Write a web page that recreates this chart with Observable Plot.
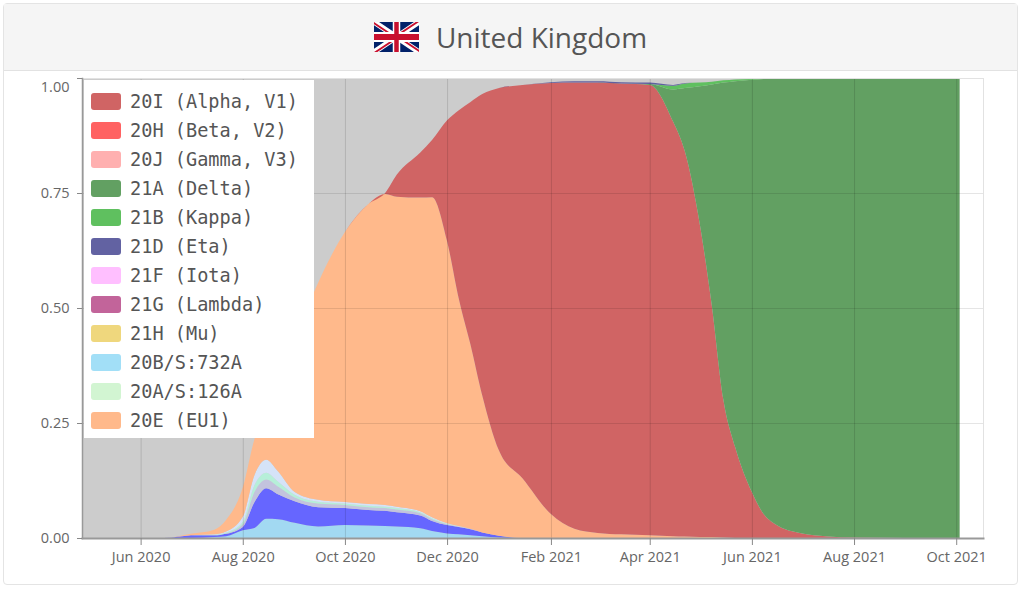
<!DOCTYPE html>
<html><head><meta charset="utf-8">
<script src="https://cdn.jsdelivr.net/npm/d3@7"></script>
<script src="https://cdn.jsdelivr.net/npm/@observablehq/plot@0.6"></script>
<style>
html,body{margin:0;padding:0;background:#fff;}
body{width:1024px;height:596px;position:relative;overflow:hidden;font-family:"Open Sans",sans-serif;}
#card{position:absolute;left:3px;top:3px;width:1015px;height:582px;border:1px solid #e4e4e4;border-radius:4px;box-sizing:border-box;}
#header{position:absolute;left:4px;top:4px;width:1013px;height:66px;background:#f5f5f5;border-bottom:1px solid #e2e2e2;display:flex;align-items:center;justify-content:center;}
#header span{font-size:28px;color:#555;margin-left:17px;font-weight:400;}
#chart{position:absolute;left:0;top:70px;}
#legend{position:absolute;left:84px;top:80px;width:230px;height:358px;background:#fff;}
.row{position:absolute;left:0;height:20px;display:flex;align-items:center;}
.sw{width:30px;height:17px;border-radius:3px;margin-left:7px;}
.lb{margin-left:9px;font-family:"DejaVu Sans Mono",monospace;font-size:18.6px;color:#555;white-space:pre;}
</style></head>
<body>
<div id="card"></div>
<div id="header">
<svg width="45" height="30" viewBox="0 0 60 30" preserveAspectRatio="none">
<clipPath id="s"><path d="M0,0 v30 h60 v-30 z"/></clipPath>
<clipPath id="t"><path d="M30,15 h30 v15 z v15 h-30 z h-30 v-15 z v-15 h30 z"/></clipPath>
<g clip-path="url(#s)">
<path d="M0,0 v30 h60 v-30 z" fill="#012169"/>
<path d="M0,0 L60,30 M60,0 L0,30" stroke="#fff" stroke-width="6"/>
<path d="M0,0 L60,30 M60,0 L0,30" clip-path="url(#t)" stroke="#C8102E" stroke-width="4"/>
<path d="M30,0 v30 M0,15 h60" stroke="#fff" stroke-width="10"/>
<path d="M30,0 v30 M0,15 h60" stroke="#C8102E" stroke-width="6"/>
</g></svg>
<span>United Kingdom</span>
</div>
<div id="chart"></div>
<div id="legend"></div>
<script>
// ---- data ----
const dates = ["2020-04-27","2020-06-01","2020-06-15","2020-07-01","2020-07-15","2020-07-22","2020-08-01","2020-08-08","2020-08-15","2020-08-22",
"2020-09-01","2020-09-15","2020-10-01","2020-10-15","2020-10-25","2020-11-01","2020-11-15","2020-11-22","2020-12-01","2020-12-08",
"2020-12-15","2020-12-22","2021-01-01","2021-01-15","2021-02-01","2021-02-15","2021-03-01","2021-03-15","2021-04-01","2021-04-15",
"2021-04-22","2021-05-01","2021-05-08","2021-05-15","2021-05-22","2021-06-01","2021-06-08","2021-06-15","2021-07-01","2021-07-15",
"2021-08-01","2021-09-01","2021-10-03"];

const v20B_S732A = [0,0,0,0,0.002,0.004,0.017,0.022,0.042,0.041, 0.033,0.025,0.028,0.027,0.026,0.025,0.021,0.015,0.010,0.008, 0.006,0.004,0.001,0,0,0,0,0,0,0, 0,0,0,0,0,0,0,0,0,0, 0,0,0];
const v20A_EU2   = [0,0,0,0.006,0.004,0.005,0.007,0.056,0.066,0.054, 0.047,0.042,0.037,0.034,0.033,0.031,0.028,0.022,0.018,0.016, 0.013,0.008,0.004,0,0,0,0,0,0,0, 0,0,0,0,0,0,0,0,0,0, 0,0,0];
const v20A_S439K = [0,0,0,0,0,0.001,0.006,0.022,0.019,0.017, 0.008,0.008,0.007,0.006,0.006,0.006,0.005,0.004,0.002,0.001, 0.001,0,0,0,0,0,0,0,0,0, 0,0,0,0,0,0,0,0,0,0, 0,0,0];
const v20A_S126A = [0,0,0,0,0.001,0.002,0.005,0.015,0.015,0.011, 0.006,0.004,0.003,0.003,0.003,0.003,0.002,0.002,0.001,0, 0,0,0,0,0,0,0,0,0,0, 0,0,0,0,0,0,0,0,0,0, 0,0,0];
const v20A_S98F  = [0,0,0,0,0.001,0.002,0.011,0.022,0.028,0.022, 0.006,0.004,0.003,0.004,0.004,0.003,0.002,0.002,0.001,0.001, 0,0,0,0,0,0,0,0,0,0, 0,0,0,0,0,0,0,0,0,0, 0,0,0];
const v20E_EU1   = [0,0,0,0.003,0.010,0.025,0.064,0.078,0.110,0.195, 0.330,0.472,0.587,0.652,0.676,0.674,0.682,0.696,0.613,0.494, 0.400,0.298,0.185,0.130,0.052,0.020,0.011,0.008,0.006,0.004, 0.003,0.002,0.002,0.001,0,0,0,0,0,0, 0,0,0];
const v20I_Alpha = [0,0,0,0,0,0,0,0,0,0, 0,0,0,0,0.002,0.048,0.098,0.124,0.263,0.410, 0.528,0.655,0.788,0.855,0.937,0.970,0.979,0.980,0.979,0.901, 0.837,0.678,0.505,0.299,0.198,0.100,0.052,0.030,0.010,0.004, 0.001,0,0];
const v21A_Delta = [0,0,0,0,0,0,0,0,0,0, 0,0,0,0,0,0,0,0,0,0, 0,0,0,0,0,0,0,0,0.002,0.070, 0.138,0.302,0.479,0.690,0.795,0.896,0.946,0.969,0.990,0.996, 0.999,1,1];
const v21B_Kappa = [0,0,0,0,0,0,0,0,0,0, 0,0,0,0,0,0,0,0,0,0, 0,0,0,0,0,0,0,0,0,0.008, 0.010,0.008,0.006,0.005,0.004,0.002,0.001,0,0,0, 0,0,0];
const v21D_Eta   = [0,0,0,0,0,0,0,0,0,0, 0,0,0,0,0,0,0,0,0,0, 0,0,0,0,0.002,0.003,0.003,0.003,0.003,0.002, 0.001,0,0,0,0,0,0,0,0,0, 0,0,0];

// stacking order (bottom to top)
const stackNames  = ["20B/S:732A","20A.EU2","20A/S:439K","20A/S:126A","20A/S:98F","20E (EU1)","20I (Alpha, V1)","21A (Delta)","21B (Kappa)","21D (Eta)"];
const stackValues = [v20B_S732A, v20A_EU2, v20A_S439K, v20A_S126A, v20A_S98F, v20E_EU1, v20I_Alpha, v21A_Delta, v21B_Kappa, v21D_Eta];
const stackColors = ["#a2d9f2","#6666ff","#c3c3dd","#b6efd9","#d5e3f8","#ffb98b","#d06464","#62a062","#5fc05f","#6060a0"];

// legend
const legendNames  = ["20I (Alpha, V1)","20H (Beta, V2)","20J (Gamma, V3)","21A (Delta)","21B (Kappa)","21D (Eta)","21F (Iota)","21G (Lambda)","21H (Mu)","20B/S:732A","20A/S:126A","20E (EU1)"];
const legendColors = ["#d06464","#ff6262","#ffb0b0","#62a062","#5fc05f","#6262a2","#ffbfff","#c2649a","#efd77d","#a2dff7","#d2f5d2","#ffb98b"];

const xTicks = ["2020-06-01","2020-08-01","2020-10-01","2020-12-01","2021-02-01","2021-04-01","2021-06-01","2021-08-01","2021-10-01"];
const yTicks = [0, 0.25, 0.5, 0.75, 1];
const xDomain = ["2020-04-27","2021-10-17"];

// ---- build ----
const parse = s => new Date(s + "T00:00:00Z");
const dateObjs = dates.map(parse);
const table = [];
stackNames.forEach((name, i) => {
  stackValues[i].forEach((v, j) => table.push({date: dateObjs[j], variant: name, value: v}));
});

const chart = Plot.plot({
  width: 1024,
  height: 512,
  marginLeft: 82,
  marginRight: 41,
  marginTop: 8,
  marginBottom: 44,
  style: {fontFamily: "'Open Sans', sans-serif", fontSize: "14.5px", color: "#666", background: "transparent"},
  x: {type: "utc", domain: xDomain.map(parse)},
  y: {domain: [0, 1]},
  color: {domain: stackNames, range: stackColors},
  marks: [
    Plot.areaY(dateObjs, {x: d => d, y: 1, fill: "#cccccc"}),
    Plot.areaY(table, {x: "date", y: "value", z: "variant", fill: "variant", order: stackNames, curve: "monotone-x"}),
    Plot.gridX(xTicks.map(parse), {stroke: "#000", strokeOpacity: 0.13}),
    Plot.gridY([0.25, 0.5, 0.75], {stroke: "#000", strokeOpacity: 0.1}),
    Plot.frame({stroke: "#e2e2e2"}),
    Plot.frame({anchor: "bottom", stroke: "#999", strokeWidth: 2}),
    Plot.frame({anchor: "left", stroke: "#999", strokeWidth: 1.5}),
    Plot.axisX(xTicks.map(parse), {tickSize: 7, tickPadding: 6, tickFormat: d3.utcFormat("%b %Y"), stroke: "#888", fill: "#666", label: null}),
    Plot.axisY(yTicks, {tickSize: 5, tickFormat: () => "", stroke: "#888", label: null}),
    Plot.axisY(yTicks.slice(0, 4), {tickSize: 0, tickPadding: 13, tickFormat: d3.format(".2f"), fill: "#666", label: null}),
    Plot.axisY(yTicks.slice(4), {tickSize: 0, tickPadding: 13, dy: 9, tickFormat: d3.format(".2f"), fill: "#666", label: null})
  ]
});
document.getElementById("chart").appendChild(chart);

const legend = document.getElementById("legend");
legendNames.forEach((name, i) => {
  const row = document.createElement("div");
  row.className = "row";
  row.style.top = (11.7 + i * 29.0) + "px";
  const sw = document.createElement("div");
  sw.className = "sw";
  sw.style.background = legendColors[i];
  const lb = document.createElement("span");
  lb.className = "lb";
  lb.textContent = name;
  row.appendChild(sw); row.appendChild(lb);
  legend.appendChild(row);
});
</script>
</body></html>
